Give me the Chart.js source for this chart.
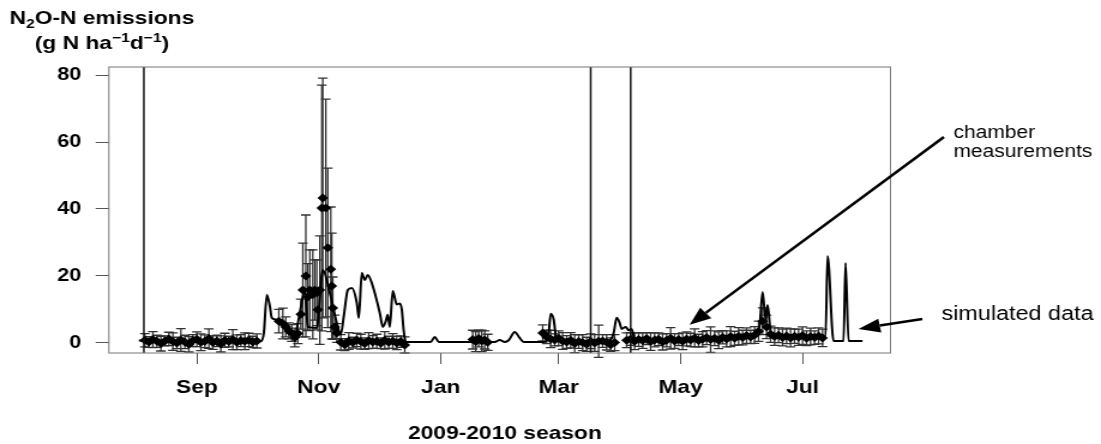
<!DOCTYPE html>
<html>
<head>
<meta charset="utf-8">
<script src="https://cdn.jsdelivr.net/npm/chart.js@4.4.1/dist/chart.umd.min.js"></script>
<style>
  html, body { margin: 0; padding: 0; background: #fff; overflow: hidden; }
</style>
</head>
<body>
<!-- the original figure is stretched sideways, so the canvas is too (inline style so Chart.js keeps it) -->
<canvas id="chart" width="918" height="444" style="width:1101px;height:444px;display:block"></canvas>
<script>
// x = days since 1 Sep 2009
const xTickDays = [0, 61, 122, 181, 242, 303];
const xTickLabels = ['Sep', 'Nov', 'Jan', 'Mar', 'May', 'Jul'];
const yTickValues = [0, 20, 40, 60, 80];

// vertical event lines
const eventDays = [-26.5, 197, 217];

// simulated N2O-N flux (line)
const simDays = [-29, -20, 0, 20, 32, 33.5, 35, 36.5, 37.5, 39.5, 41.5, 44, 46.5, 49, 51.5, 54, 55.5, 60, 63, 66.5,
  70.5, 72, 73.5, 75.5, 77.5, 80, 81, 82.5, 84, 85.5, 87.5, 91.5, 93, 94.5, 95.5, 96.5, 98, 100, 101.5, 102.5,
  103.5, 104.5, 117, 119, 121, 149, 151.5, 154, 156, 159, 161.5, 163.5, 174, 176, 177, 178.5, 180, 190, 200, 206.5,
  208.5, 210, 211.5, 212.5, 214.5, 216, 217.5, 219, 240, 260, 279, 281.5, 283, 284.5, 285.5, 287, 289, 314.5, 315.5, 318.5,
  323.5, 324.5, 326, 333];
const simValues = [0.7, 0.5, 0.5, 0.5, 0.5, 3, 14.3, 11, 7.5, 7.0, 6.5, 4.5, 3, 2.5, 9, 15.8, 4.8, 4.5, 21.8, 15,
  4.8, 2.5, 8, 15.8, 16.4, 12, 7.5, 20.9, 18.8, 20.3, 17.9, 9, 4.8, 6.5, 8.4, 4.8, 15.5, 11.5, 11.8, 10,
  3.5, 0.3, 0.3, 1.8, 0.3, 0.3, 0.9, 0.3, 0.8, 3.3, 1.5, 0.3, 0.3, 3, 8.7, 7, 0.8, 0.6, 0.5, 0.8,
  3, 7.5, 6, 4.2, 4.8, 3.8, 4.2, 1, 1, 1.5, 2.2, 5, 15.2, 7, 11.3, 3.5, 2, 2, 26, 0.6,
  0.6, 23.9, 0.6, 0.6];

// chamber measurements (mean and error)
const measDays = [
  -26, -24, -22, -20, -18, -16, -14, -12, -10, -8, -6, -4, -2, 0, 2, 4, 6, 8, 10, 12, 14, 16, 18, 20, 22, 24, 26, 28, 30,
  41, 43, 44.5, 46, 47.5, 49, 50.5,
  52, 53, 54.5, 55.5, 56.5, 58, 59, 60, 60.5, 61.5, 62.5, 63, 64.5, 65.5, 67, 67.5, 68, 69, 70,
  72, 74, 76, 78, 80, 82, 84, 86, 88, 90, 92, 94, 96, 98, 100, 102, 104,
  138, 139.5, 141, 142.5, 144, 145.5,
  173, 175, 177, 179, 181, 183, 185, 187, 189, 191, 193, 195, 197, 199, 201, 203, 205, 207, 209,
  215, 217, 219, 221, 223, 225, 227, 229, 231, 233, 235, 237, 239, 241, 243, 245, 247, 249, 251, 253,
  255, 257, 259, 261, 263, 265, 267, 269, 271, 273, 275, 277, 279, 281, 283, 285, 287, 289, 291, 293,
  295, 297, 299, 301, 303, 305, 307, 309, 311, 313];
const measValues = [
  0.8, 0.3, 1.0, 0.5, -0.2, 0.6, 1.2, 0.4, 0.0, 0.9, 0.3, -0.4, 0.7, 1.1, 0.2, 0.5, 1.3, 0.1, 0.6, -0.3, 0.8, 0.4, 1.0, 0.2, 0.7, 0.5, 0.9, 0.3, 0.6,
  6.5, 5.8, 4.8, 3.6, 3.0, 1.6, 2.8,
  8.6, 15.8, 20.0, 13.7, 15.8, 14.5, 15.8, 15.0, 9.9, 15.8, 40.3, 43.3, 40.3, 28.4, 22.0, 17.0, 10.4, 4.8, 3.0,
  0.2, -0.5, 0.6, 0.1, 0.9, 0.4, -0.2, 0.7, 0.3, 0.5, -0.1, 0.8, 0.2, 0.6, 0.0, 0.4, -0.6,
  1.0, 0.4, 1.3, 0.6, 0.9, 0.2,
  3.0, 1.8, 1.2, 0.9, 1.4, 0.6, 0.3, 0.8, -0.2, 0.4, 0.1, -0.4, 0.5, 0.0, 0.5, 0.6, 0.2, -0.5, 0.1,
  0.8, 1.2, 0.5, 1.0, 0.7, 1.3, 0.4, 0.9, 1.1, 0.3, 0.8, 1.4, 0.6, 1.0, 0.5, 1.2, 0.9, 1.5, 0.7, 1.1,
  1.6, 1.0, 1.4, 0.8, 1.7, 1.2, 1.9, 1.4, 2.0, 1.6, 2.2, 1.8, 2.4, 3.5, 6.5, 4.8, 2.6, 1.9, 2.3, 1.6,
  2.1, 1.5, 2.0, 1.7, 2.2, 1.4, 1.9, 1.6, 2.1, 1.5];
const measErrors = [
  2.0, 1.6, 2.4, 1.8, 2.2, 1.5, 2.0, 2.6, 1.7, 3.4, 2.0, 2.3, 1.8, 2.2, 2.5, 1.9, 2.9, 2.0, 1.7, 2.4, 2.1, 1.6, 3.0, 2.2, 1.8, 2.5, 2.0, 1.7, 2.1,
  3.5, 4.6, 3.0, 2.4, 2.5, 2.8, 3.0,
  4.5, 14, 18.2, 10, 12, 13.3, 9, 9.8, 6, 16.2, 36.7, 35.8, 32.5, 23.8, 18.6, 15.8, 9.3, 3.5, 2.8,
  2.3, 1.8, 2.5, 1.6, 2.0, 2.2, 1.7, 2.4, 1.9, 2.1, 1.6, 2.6, 1.8, 2.2, 2.0, 1.7, 2.4,
  2.8, 3.0, 2.5, 3.2, 2.7, 2.4,
  2.4, 2.0, 2.6, 1.8, 2.2, 2.5, 1.9, 2.3, 2.7, 2.0, 2.4, 2.1, 2.2, 2.5, 4.8, 1.9, 2.3, 2.0, 2.4,
  2.2, 1.9, 2.5, 2.0, 2.3, 1.8, 2.6, 2.1, 1.9, 2.4, 2.0, 3.2, 2.2, 1.8, 2.5, 2.1, 2.0, 2.7, 1.9, 2.3,
  2.1, 3.8, 2.2, 2.5, 2.0, 2.4, 3.0, 2.1, 2.6, 2.2, 2.3, 2.0, 2.5, 3.0, 4.0, 3.5, 2.4, 2.6, 2.2, 2.5,
  2.3, 2.7, 2.1, 2.4, 2.6, 2.2, 2.5, 2.0, 2.4, 2.6];

const FONT = "'Liberation Sans', Arial, sans-serif";

const simPoints = simDays.map((d, i) => ({ x: d, y: simValues[i] }));
const measPoints = measDays.map((d, i) => ({ x: d, y: measValues[i] }));

// error bars of the chamber measurements, under the points
const errorBars = {
  id: 'errorBars',
  beforeDatasetsDraw(chart) {
    const ctx = chart.ctx, xs = chart.scales.x, ys = chart.scales.y;
    ctx.save();
    ctx.strokeStyle = '#333';
    ctx.lineWidth = 1.3;
    measDays.forEach((d, i) => {
      const px = xs.getPixelForValue(d);
      const top = ys.getPixelForValue(measValues[i] + measErrors[i]);
      const bot = ys.getPixelForValue(measValues[i] - measErrors[i]);
      ctx.beginPath();
      ctx.moveTo(px, top); ctx.lineTo(px, bot);
      ctx.moveTo(px - 4, top); ctx.lineTo(px + 4, top);
      ctx.moveTo(px - 4, bot); ctx.lineTo(px + 4, bot);
      ctx.stroke();
    });
    ctx.restore();
  }
};

function arrow(ctx, x0, y0, x1, y1) {
  const a = Math.atan2(y1 - y0, x1 - x0);
  const len = 18, half = 7;
  const bx = x1 - len * Math.cos(a), by = y1 - len * Math.sin(a);
  ctx.beginPath();
  ctx.moveTo(x0, y0); ctx.lineTo(bx, by);
  ctx.stroke();
  ctx.beginPath();
  ctx.moveTo(x1, y1);
  ctx.lineTo(bx + half * Math.sin(a), by - half * Math.cos(a));
  ctx.lineTo(bx - half * Math.sin(a), by + half * Math.cos(a));
  ctx.closePath();
  ctx.fill();
}

const frame = {
  id: 'frame',
  afterDatasetsDraw(chart) {
    const ctx = chart.ctx, a = chart.chartArea, xs = chart.scales.x;
    ctx.save();
    ctx.strokeStyle = '#111';
    ctx.lineWidth = 1.5;
    eventDays.forEach(d => {
      const px = xs.getPixelForValue(d);
      ctx.beginPath(); ctx.moveTo(px, a.top); ctx.lineTo(px, a.bottom); ctx.stroke();
    });
    ctx.strokeStyle = '#777';
    ctx.lineWidth = 1;
    ctx.strokeRect(a.left, a.top, a.right - a.left, a.bottom - a.top);
    ctx.restore();
  },
  afterDraw(chart) {
    const ctx = chart.ctx, xs = chart.scales.x, ys = chart.scales.y;
    ctx.save();
    ctx.fillStyle = '#000';
    ctx.textAlign = 'left';
    ctx.textBaseline = 'alphabetic';

    // y axis title, two lines with sub/superscripts
    let x = 8;
    ctx.font = 'bold 19px ' + FONT;
    ctx.fillText('N', x, 24); x += ctx.measureText('N').width;
    ctx.font = 'bold 13px ' + FONT;
    ctx.fillText('2', x, 28); x += ctx.measureText('2').width;
    ctx.font = 'bold 19px ' + FONT;
    ctx.fillText('O-N emissions', x, 24);

    x = 29;
    const parts = [['(g N ha', 0], ['\u22121', 1], ['d', 0], ['\u22121', 1], [')', 0]];
    parts.forEach(([t, sup]) => {
      ctx.font = (sup ? 'bold 13px ' : 'bold 19px ') + FONT;
      ctx.fillText(t, x, sup ? 42 : 49);
      x += ctx.measureText(t).width;
    });

    // x axis title
    ctx.font = 'bold 19px ' + FONT;
    ctx.textAlign = 'center';
    ctx.fillText('2009-2010 season', 421, 439);

    // annotations
    ctx.textAlign = 'left';
    ctx.font = '17.5px ' + FONT;
    ctx.fillText('chamber', 795, 138);
    ctx.fillText('measurements', 795, 157);
    ctx.font = '19.5px ' + FONT;
    ctx.fillText('simulated data', 785, 320);

    ctx.strokeStyle = '#000';
    ctx.lineWidth = 2.5;
    arrow(ctx, 787, 137, xs.getPixelForValue(246.5), ys.getPixelForValue(5.4));
    arrow(ctx, 769, 319, xs.getPixelForValue(331), ys.getPixelForValue(4.2));
    ctx.restore();
  }
};

new Chart(document.getElementById('chart'), {
  type: 'scatter',
  data: {
    datasets: [
      {
        label: 'simulated',
        data: simPoints,
        showLine: true,
        borderColor: '#000',
        borderWidth: 2,
        pointRadius: 0,
        cubicInterpolationMode: 'monotone',
        order: 2
      },
      {
        label: 'chamber',
        data: measPoints,
        pointStyle: 'rectRot',
        pointRadius: 4.5,
        backgroundColor: '#000',
        borderColor: '#000',
        borderWidth: 0,
        order: 1
      }
    ]
  },
  plugins: [errorBars, frame],
  options: {
    responsive: false,
    animation: false,
    layout: { padding: { top: 67, right: 175.5, bottom: 0, left: 0 } },
    plugins: { legend: { display: false }, tooltip: { enabled: false } },
    scales: {
      x: {
        type: 'linear',
        min: -44,
        max: 347,
        afterBuildTicks: (scale) => { scale.ticks = xTickDays.map(v => ({ value: v })); },
        afterFit: (scale) => { scale.height = 91; },
        grid: { drawOnChartArea: false, drawTicks: true, tickLength: 11, tickColor: '#555' },
        border: { display: false },
        ticks: {
          autoSkip: false,
          maxRotation: 0,
          padding: 12,
          color: '#000',
          font: { family: FONT, size: 19, weight: 'bold' },
          callback: (v, i) => xTickLabels[i]
        }
      },
      y: {
        min: -3,
        max: 82.4,
        afterBuildTicks: (scale) => { scale.ticks = yTickValues.map(v => ({ value: v })); },
        afterFit: (scale) => { scale.width = 90.8; },
        grid: { drawOnChartArea: false, drawTicks: true, tickLength: 11, tickColor: '#555' },
        border: { display: false },
        ticks: {
          padding: 12,
          color: '#000',
          font: { family: FONT, size: 18, weight: 'bold' }
        }
      }
    }
  }
});
</script>
</body>
</html>
